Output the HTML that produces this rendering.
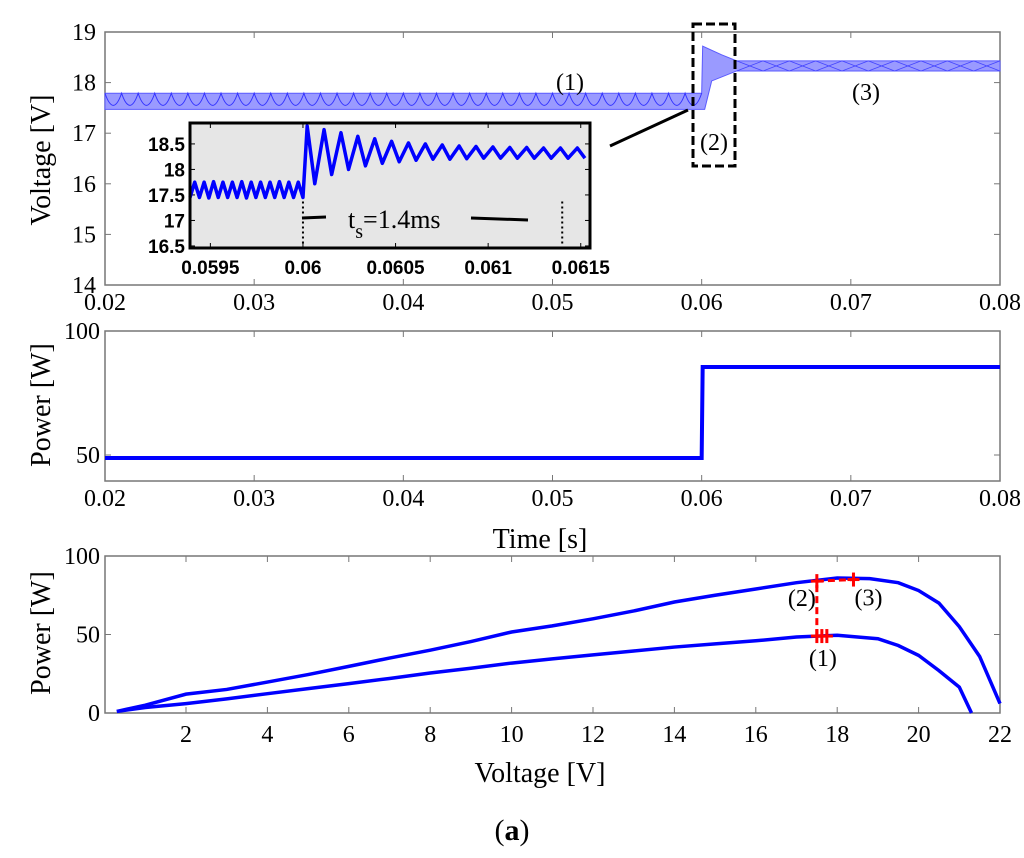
<!DOCTYPE html>
<html><head><meta charset="utf-8"><style>
html,body{margin:0;padding:0;background:#fff}
svg{display:block}
text{font-family:"Liberation Serif",serif;fill:#000}
.tk{font-size:24px}
.ti{font-size:28px}
.it{font-family:"Liberation Sans",sans-serif;font-weight:bold;font-size:19px}
</style></head><body>
<svg id="fig" width="1024" height="858" viewBox="0 0 1024 858" xmlns="http://www.w3.org/2000/svg">
<g id="gtop"></g>
<g id="ginset"></g>
<g id="gmid"></g>
<g id="gbot"></g>
<text x="512" y="840" text-anchor="middle" style="font-size:30px">(<tspan font-weight="bold">a</tspan>)</text>
</svg>
<script>
// ---- data ----
const timeTicks = [0.02,0.03,0.04,0.05,0.06,0.07,0.08];
const voltTicks = [14,15,16,17,18,19];
const vBandPre = [17.47, 17.79];
const vBandPost = [18.23, 18.43];
const vSpikePeak = [18.72];
const stepTime = [0.06];
const powerTimeTicks = [50,100];
const powerLevels = [48.8, 85.5];
const insetXTicks = [0.0595,0.06,0.0605,0.061,0.0615];
const insetYTicks = [16.5,17,17.5,18,18.5];
const insetPrePeaks = [17.75,17.75,17.76,17.75,17.75,17.76,17.75,17.75,17.75,17.76,17.75,17.75];
const insetPreTroughs = [17.45,17.45,17.44,17.45,17.45,17.45,17.44,17.45,17.45,17.45,17.45,17.45];
const insetPostPeaks = [18.85,18.78,18.72,18.65,18.6,18.55,18.52,18.5,18.48,18.46,18.45,18.44,18.43,18.43,18.42,18.42,18.42];
const insetPostTroughs = [17.45,17.72,17.9,18.0,18.07,18.12,18.15,18.18,18.2,18.2,18.21,18.22,18.22,18.22,18.22,18.22,18.22];
const settleTimes = [0.06, 0.0614];
const pvXTicks = [2,4,6,8,10,12,14,16,18,20,22];
const pvYTicks = [0,50,100];
const curveHighV = [0.3,1,2,3,4,5,6,7,8,9,10,11,12,13,14,15,16,17,18,18.8,19.5,20,20.5,21,21.5,22];
const curveHighP = [1,5,12,15,19.7,24.5,29.7,35,40,45.5,51.6,55.5,60,65,70.7,75,79,83,86,85.6,83,78,70,55,36,6];
const curveLowV = [0.3,1,2,3,4,5,6,7,8,9,10,11,12,13,14,15,16,17,18,19,19.5,20,20.5,21,21.3];
const curveLowP = [1,3.5,6,9,12.3,15.5,18.7,22,25.5,28.5,31.8,34.5,37,39.5,42,44,46,48.4,49.5,47.3,43,36.7,27,16.5,0];
const opV = [17.5,17.5,18.4];
const opP = [49,84,85];
const opLabels = ['(1)','(2)','(3)'];

const NS='http://www.w3.org/2000/svg';
function mk(parent,tag,attrs,txt){const el=document.createElementNS(NS,tag);for(const k in attrs)el.setAttribute(k,attrs[k]);if(txt!==undefined)el.textContent=txt;parent.appendChild(el);return el;}
function lin(d0,d1,r0,r1){return v=>r0+(v-d0)*(r1-r0)/(d1-d0);}
let e;

// ---- top plot ----
const gTop=document.getElementById('gtop');
const tx=lin(0.02,0.08,105,1000), ty=lin(14,19,285,32);
e=mk(gTop,'rect',{x:105,y:32,width:895,height:253,fill:'none',stroke:'#777','stroke-width':1.5});


timeTicks.forEach(t=>{const x=tx(t);
 mk(gTop,'line',{x1:x,y1:285,x2:x,y2:279,stroke:'#777'});mk(gTop,'line',{x1:x,y1:32,x2:x,y2:38,stroke:'#777'});
 e=mk(gTop,'text',{x:x,y:310,'text-anchor':'middle',class:'tk'},String(t));
 
 });
voltTicks.forEach(v=>{const y=ty(v);
 mk(gTop,'line',{x1:105,y1:y,x2:111,y2:y,stroke:'#777'});mk(gTop,'line',{x1:1000,y1:y,x2:994,y2:y,stroke:'#777'});
 e=mk(gTop,'text',{x:96,y:y+8,'text-anchor':'end',class:'tk'},String(v));
 
 });
e=mk(gTop,'text',{x:0,y:0,'text-anchor':'middle',class:'ti',transform:'translate(50,160) rotate(-90)'},'Voltage [V]');


const xs=stepTime[0];
const bandPts=[[tx(0.02),ty(vBandPre[1])],[tx(xs),ty(vBandPre[1])],[tx(xs)+1,ty(vSpikePeak[0])],[tx(xs)+20,ty(vBandPost[1])-6],[tx(xs)+35,ty(vBandPost[1])],[tx(0.08),ty(vBandPost[1])],[tx(0.08),ty(vBandPost[0])],[tx(xs)+35,ty(vBandPost[0])],[tx(xs)+10,ty(vBandPost[0])+10],[tx(xs)+3,ty(vBandPre[0])],[tx(0.02),ty(vBandPre[0])]];
e=mk(gTop,'polygon',{points:bandPts.map(p=>p.join(',')).join(' '),fill:'#9a9aff',stroke:'#5b5bff','stroke-width':1});


let d='';const per=(tx(xs)-tx(0.02))/36;
for(let i=0;i<36;i++){const x0=tx(0.02)+i*per;d+=(i?'L':'M')+x0+','+ty(vBandPre[1])+' Q'+(x0+per/2)+','+(ty(vBandPre[0])+8)+' '+(x0+per)+','+ty(vBandPre[1]);}
mk(gTop,'path',{d:d,fill:'none',stroke:'#3333ff','stroke-width':1});
d='';const per2=(tx(0.08)-tx(xs)-35)/10;
for(let i=0;i<10;i++){const x0=tx(xs)+35+i*per2;d+='M'+x0+','+ty(vBandPost[1])+' L'+(x0+per2)+','+ty(vBandPost[0])+' M'+x0+','+ty(vBandPost[0])+' L'+(x0+per2)+','+ty(vBandPost[1]);}
mk(gTop,'path',{d:d,fill:'none',stroke:'#4444ff','stroke-width':0.8});
e=mk(gTop,'rect',{x:693,y:24,width:42,height:142,fill:'none',stroke:'#000','stroke-width':3,'stroke-dasharray':'9,4'});


mk(gTop,'line',{x1:610,y1:146,x2:688,y2:110,stroke:'#000','stroke-width':3});
[[opLabels[0],570,90],[opLabels[1],714,150],[opLabels[2],866,100]].forEach(a=>{e=mk(gTop,'text',{x:a[1],y:a[2],'text-anchor':'middle',style:'font-size:24px'},a[0]);
 
 });

// ---- inset ----
const gIns=document.getElementById('ginset');
const ix=lin(0.05939,0.06155,190,590), iy=lin(16.46,18.91,248,123);
e=mk(gIns,'rect',{x:190,y:123,width:400,height:125,fill:'#e6e6e6'});


insetXTicks.forEach(t=>{const x=ix(t);mk(gIns,'line',{x1:x,y1:248,x2:x,y2:243,stroke:'#000'});mk(gIns,'line',{x1:x,y1:123,x2:x,y2:128,stroke:'#000'});
 e=mk(gIns,'text',{x:x,y:274,'text-anchor':'middle',class:'it'},String(t));
 
 });
insetYTicks.forEach(v=>{const y=iy(v);mk(gIns,'line',{x1:190,y1:y,x2:195,y2:y,stroke:'#000'});mk(gIns,'line',{x1:590,y1:y,x2:585,y2:y,stroke:'#000'});
 e=mk(gIns,'text',{x:185,y:y+7,'text-anchor':'end',class:'it'},String(v));
 
 });
let pts=[];const t0=0.05939,tS=stepTime[0];
const pp=(tS-t0)/insetPrePeaks.length;
insetPrePeaks.forEach((p,i)=>{pts.push([ix(t0+i*pp),iy(insetPreTroughs[i])]);pts.push([ix(t0+(i+0.5)*pp),iy(p)]);});
pts.push([ix(tS),iy(insetPreTroughs[insetPreTroughs.length-1])]);
const qp=(0.06155-tS)/insetPostPeaks.length;
insetPostPeaks.forEach((p,i)=>{pts.push([ix(tS+(i+0.25)*qp),iy(p)]);pts.push([ix(tS+(i+0.7)*qp),iy(insetPostTroughs[Math.min(i+1,insetPostTroughs.length-1)])]);});
pts[pts.length-1][0]=Math.min(pts[pts.length-1][0],590);
e=mk(gIns,'polyline',{points:pts.map(p=>p.join(',')).join(' '),fill:'none',stroke:'#0000ff','stroke-width':3.5,'stroke-linejoin':'round'});


settleTimes.forEach(t=>{e=mk(gIns,'line',{x1:ix(t),y1:iy(insetPreTroughs[0])+4,x2:ix(t),y2:248,stroke:'#000','stroke-width':2,'stroke-dasharray':'2,3'});
 
 });
mk(gIns,'line',{x1:302,y1:218,x2:326,y2:217,stroke:'#000','stroke-width':3});
mk(gIns,'line',{x1:471,y1:218,x2:528,y2:220,stroke:'#000','stroke-width':3});
e=mk(gIns,'text',{x:348,y:228,style:'font-size:26px'});
mk(e,'tspan',{},'t');mk(e,'tspan',{dy:10,style:'font-size:20px'},'s');mk(e,'tspan',{dy:-10},'=1.4ms');


mk(gIns,'rect',{x:190,y:123,width:400,height:125,fill:'none',stroke:'#000','stroke-width':3});

// ---- middle ----
const gMid=document.getElementById('gmid');
const my=lin(100,50,331,455);
mk(gMid,'rect',{x:105,y:331,width:895,height:150,fill:'none',stroke:'#777','stroke-width':1.5});
timeTicks.forEach(t=>{const x=tx(t);mk(gMid,'line',{x1:x,y1:481,x2:x,y2:475,stroke:'#777'});mk(gMid,'line',{x1:x,y1:331,x2:x,y2:337,stroke:'#777'});
 e=mk(gMid,'text',{x:x,y:506,'text-anchor':'middle',class:'tk'},String(t));
 
 });
powerTimeTicks.forEach(v=>{const y=my(v);mk(gMid,'line',{x1:105,y1:y,x2:111,y2:y,stroke:'#777'});mk(gMid,'line',{x1:1000,y1:y,x2:994,y2:y,stroke:'#777'});
 e=mk(gMid,'text',{x:100,y:y+8,'text-anchor':'end',class:'tk'},String(v));
 
 });
e=mk(gMid,'polyline',{points:[[tx(0.02),my(powerLevels[0])],[tx(stepTime[0]),my(powerLevels[0])],[tx(stepTime[0])+1,my(powerLevels[1])],[tx(0.08),my(powerLevels[1])]].map(p=>p.join(',')).join(' '),fill:'none',stroke:'#0000ff','stroke-width':4});


e=mk(gMid,'text',{x:0,y:0,'text-anchor':'middle',class:'ti',transform:'translate(50,405) rotate(-90)'},'Power [W]');


e=mk(gMid,'text',{x:540,y:548,'text-anchor':'middle',class:'ti'},'Time [s]');



// ---- bottom ----
const gBot=document.getElementById('gbot');
const bx=lin(0,22,104.6,1000), by=lin(0,100,713,556);
mk(gBot,'rect',{x:105,y:556,width:895,height:157,fill:'none',stroke:'#777','stroke-width':1.5});
pvXTicks.forEach(v=>{const x=bx(v);mk(gBot,'line',{x1:x,y1:713,x2:x,y2:707,stroke:'#777'});mk(gBot,'line',{x1:x,y1:556,x2:x,y2:562,stroke:'#777'});
 e=mk(gBot,'text',{x:x,y:742,'text-anchor':'middle',class:'tk'},String(v));
 
 });
pvYTicks.forEach(v=>{const y=by(v);mk(gBot,'line',{x1:105,y1:y,x2:111,y2:y,stroke:'#777'});mk(gBot,'line',{x1:1000,y1:y,x2:994,y2:y,stroke:'#777'});
 e=mk(gBot,'text',{x:100,y:y+8,'text-anchor':'end',class:'tk'},String(v));
 
 });
e=mk(gBot,'polyline',{points:curveHighV.map((v,i)=>bx(v)+','+by(curveHighP[i])).join(' '),fill:'none',stroke:'#0000ff','stroke-width':3.5});


e=mk(gBot,'polyline',{points:curveLowV.map((v,i)=>bx(v)+','+by(curveLowP[i])).join(' '),fill:'none',stroke:'#0000ff','stroke-width':3.5});


e=mk(gBot,'polyline',{points:opV.map((v,i)=>bx(v)+','+by(opP[i])).join(' '),fill:'none',stroke:'#ff0000','stroke-width':3,'stroke-dasharray':'7,4'});


opV.forEach((v,i)=>{const x=bx(v),y=by(opP[i]);
 const n=i==0?3:1;for(let k=0;k<n;k++){const xx=x+k*5;mk(gBot,'line',{x1:xx-6,y1:y,x2:xx+6,y2:y,stroke:'#f00','stroke-width':3});mk(gBot,'line',{x1:xx,y1:y-7,x2:xx,y2:y+7,stroke:'#f00','stroke-width':3});}
 const off=[[6,30],[-15,25],[15,26]][i];
 e=mk(gBot,'text',{x:x+off[0],y:y+off[1],'text-anchor':'middle',style:'font-size:24px'},opLabels[i]);
 
 });
e=mk(gBot,'text',{x:0,y:0,'text-anchor':'middle',class:'ti',transform:'translate(50,633) rotate(-90)'},'Power [W]');


e=mk(gBot,'text',{x:540,y:782,'text-anchor':'middle',class:'ti'},'Voltage [V]');


</script>
</body></html>
